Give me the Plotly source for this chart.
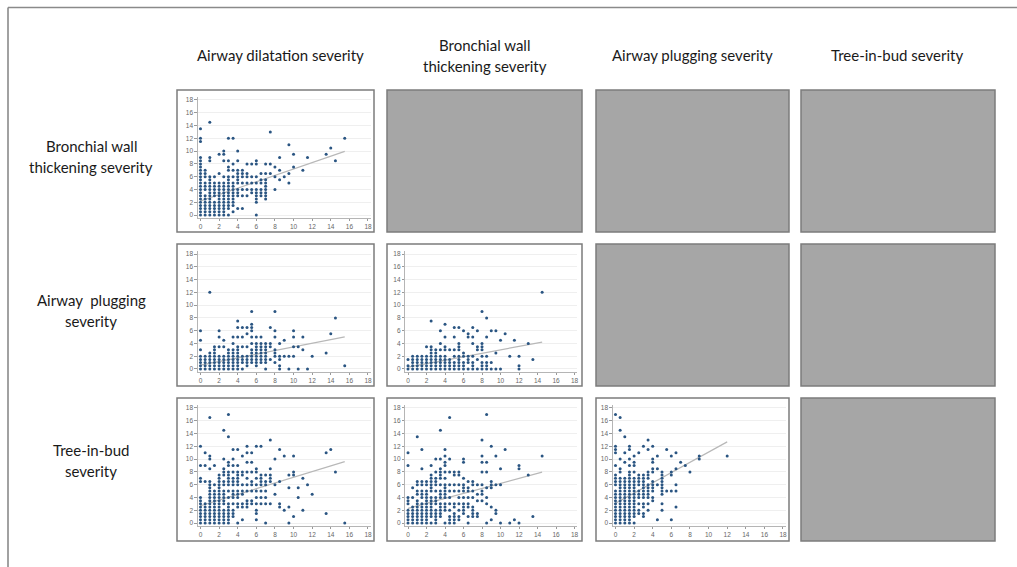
import plotly.graph_objects as go

W, H = 1017, 567

# ---- severity scores, grouped by x value: {x: [y, y, ...]} ----
# airway dilatation (x) vs bronchial wall thickening (y)
AD_BW = {
    0: [0, 0.5, 1, 1.5, 2, 2.5, 3, 3.5, 4, 4.5, 5, 5.5, 6, 6.5, 7, 7.5, 8, 8.5, 9, 11.5, 12, 13.5],
    0.5: [0, 0.5, 1, 1.5, 2, 2.5, 3, 4, 4.5, 5, 6, 6.5, 7],
    1: [0, 0.5, 1, 1.5, 2, 2.5, 3, 3.5, 4, 4.5, 5, 5.5, 6, 8.5, 9, 14.5],
    1.5: [0, 0.5, 1, 1.5, 2, 3, 3.5, 4, 4.5, 5, 6],
    2: [0, 0.5, 1, 1.5, 2, 2.5, 3, 3.5, 4, 4.5, 5, 6.5, 9.5],
    2.5: [0, 0.5, 1, 1.5, 2, 2.5, 3, 3.5, 4, 4.5, 5, 6, 8.5, 9.5, 10],
    3: [0, 1, 1.5, 2, 2.5, 3, 3.5, 4, 4.5, 5, 5.5, 6, 7, 7.5, 8.5, 12],
    3.5: [0.5, 1.5, 2, 2.5, 3, 3.5, 4, 4.5, 5, 6, 7, 8, 12],
    4: [1, 3, 3.5, 4, 5, 5.5, 6, 6.5, 7, 8.5, 10],
    4.5: [1, 3, 4, 5, 6, 6.5, 7],
    5: [3, 4, 5, 6, 6.5, 8],
    5.5: [3.5, 4, 5, 6, 8],
    6: [0, 2, 2.5, 3, 3.5, 4, 5, 6, 8, 8.5],
    6.5: [3, 3.5, 4, 5, 5.5, 6.5],
    7: [2.5, 3, 3.5, 4, 4.5, 5, 5.5, 6.5, 8],
    7.5: [6.5, 8, 13],
    8: [4, 6, 7.5],
    8.5: [5.5, 7, 9],
    9: [6],
    9.5: [5, 6.5, 11],
    10: [7.5, 9.5],
    11: [7],
    11.5: [9],
    13.5: [9.5],
    14: [10.5],
    14.5: [8.5],
    15.5: [12],
}

# airway dilatation (x) vs airway plugging (y)
AD_AP = {
    0: [0, 0.5, 1, 1.5, 2, 3, 4.5, 6],
    0.5: [0, 0.5, 1, 1.5, 2],
    1: [0, 0.5, 1, 1.5, 2, 2.5, 12],
    1.5: [0, 0.5, 1, 1.5, 2, 2.5, 3, 3.5],
    2: [0, 0.5, 1, 1.5, 2, 3.5, 5, 6],
    2.5: [0, 0.5, 1, 1.5, 2, 3.5, 4.5],
    3: [0, 0.5, 1, 1.5, 2, 2.5, 3],
    3.5: [0, 0.5, 1, 1.5, 2, 2.5, 3, 4, 5],
    4: [0, 0.5, 1, 1.5, 2, 2.5, 3, 3.5, 5, 6.5, 7.5],
    4.5: [0, 1, 1.5, 2, 3.5, 5, 6.5],
    5: [0.5, 1, 1.5, 2, 3.5, 5.5, 6.5],
    5.5: [1, 1.5, 2, 2.5, 3, 4, 5, 6, 6.5, 7, 9],
    6: [0.5, 1, 1.5, 2, 2.5, 3, 3.5, 4, 5],
    6.5: [1, 1.5, 2, 2.5, 3, 3.5, 4, 5],
    7: [0, 1, 1.5, 2, 2.5, 3, 3.5, 4],
    7.5: [1.5, 3.5, 4, 6.5],
    8: [1, 2, 2.5, 3, 5, 6, 9],
    8.5: [0, 0.5, 1.5, 2, 4],
    9: [2, 4.5],
    9.5: [0, 2],
    10: [2, 3.5, 5, 6],
    10.5: [0, 3.5],
    11: [3, 5],
    11.5: [0],
    12: [2],
    13.5: [2.5],
    14: [5.5],
    14.5: [8],
    15.5: [0.5],
}

# airway dilatation (x) vs tree-in-bud (y)
AD_TB = {
    0: [0, 0.5, 1, 1.5, 2, 2.5, 3, 3.5, 4, 6.5, 7, 9, 12],
    0.5: [0, 0.5, 1, 1.5, 2, 2.5, 3, 6.5, 9, 11],
    1: [0, 0.5, 1, 1.5, 2, 2.5, 3, 3.5, 4, 4.5, 5, 5.5, 6, 6.5, 8.5, 10, 10.5, 16.5],
    1.5: [0, 0.5, 1, 1.5, 2, 2.5, 3, 3.5, 4, 4.5, 5, 6, 9],
    2: [0, 0.5, 1, 1.5, 2, 2.5, 3, 3.5, 4, 4.5, 5, 5.5, 6, 6.5, 7, 7.5],
    2.5: [0, 0.5, 1, 1.5, 2, 3, 3.5, 4, 4.5, 5, 6, 6.5, 7.5, 8, 8.5, 10, 14.5],
    3: [0, 0.5, 1, 1.5, 2, 2.5, 3, 4, 5, 6, 6.5, 7, 7.5, 8, 9, 9.5, 13.5, 17],
    3.5: [1, 1.5, 2, 3, 4, 4.5, 5, 6, 6.5, 7, 8, 9, 10, 11.5],
    4: [0, 2.5, 3, 4, 4.5, 5, 6, 6.5, 7, 7.5, 8, 9, 11.5],
    4.5: [0.5, 2.5, 3, 4.5, 5, 6, 7.5, 8, 10.5],
    5: [2.5, 3, 3.5, 5, 6, 7, 8, 9.5, 11, 12],
    5.5: [3, 3.5, 5, 6, 6.5, 8, 9.5, 11],
    6: [0.5, 1.5, 2, 3, 4, 5, 6, 7, 8, 8.5, 12],
    6.5: [3, 4, 5, 6, 6.5, 7, 7.5, 12],
    7: [0, 3, 4, 5, 6, 6.5, 7.5],
    7.5: [3, 6.5, 7, 7.5, 8.5, 13],
    8: [4.5, 6, 10],
    8.5: [2.5, 3, 6.5, 11.5],
    9: [2, 10.5],
    9.5: [0, 2.5, 5.5, 7.5],
    10: [1, 7.5, 8, 10.5],
    10.5: [4, 5.5],
    11: [2, 7],
    11.5: [6],
    12: [4.5],
    13.5: [1.5, 11],
    14: [11.5],
    14.5: [8],
    15.5: [0],
}

# bronchial wall thickening (x) vs airway plugging (y)
BW_AP = {
    0: [0, 0.5, 1.5],
    0.5: [0, 0.5, 1, 1.5, 2],
    1: [0, 0.5, 1, 1.5, 2],
    1.5: [0, 0.5, 1, 1.5, 2],
    2: [0, 0.5, 1, 1.5, 2, 3.5],
    2.5: [0, 0.5, 1, 1.5, 2, 2.5, 3, 3.5, 7.5],
    3: [0, 0.5, 1, 1.5, 2, 2.5, 3],
    3.5: [0, 0.5, 1, 1.5, 2, 3, 4, 6],
    4: [0, 0.5, 1, 1.5, 2, 3, 3.5, 5, 7],
    4.5: [0, 0.5, 1, 1.5, 3],
    5: [0, 0.5, 1, 2, 3, 5, 6.5],
    5.5: [0, 0.5, 1, 1.5, 2, 3, 3.5, 4, 6.5],
    6: [0, 0.5, 1, 2, 2.5, 6],
    6.5: [0, 1, 1.5, 2, 5, 5.5],
    7: [0, 0.5, 1, 2, 4, 5, 6.5],
    7.5: [0, 1.5, 3, 3.5, 6],
    8: [0, 0.5, 1, 2, 3, 3.5, 4, 9],
    8.5: [0, 0.5, 1, 2, 5, 8],
    9: [0, 1, 6],
    9.5: [0, 2.5, 6],
    10: [0, 4.5],
    10.5: [5.5],
    11: [2],
    11.5: [4.5],
    12: [0, 0.5, 2],
    13: [4],
    13.5: [1.5],
    14.5: [12],
}

# bronchial wall thickening (x) vs tree-in-bud (y)
BW_TB = {
    0: [0, 0.5, 1, 1.5, 2, 3, 3.5, 4, 9, 11],
    0.5: [0, 0.5, 1, 1.5, 2, 2.5, 4, 5.5],
    1: [0, 0.5, 1, 1.5, 2, 2.5, 3, 3.5, 4.5, 5, 6, 6.5, 13.5],
    1.5: [0, 0.5, 1, 1.5, 2, 2.5, 3, 4, 4.5, 5, 6, 6.5, 8.5, 11.5],
    2: [0, 0.5, 1, 1.5, 2, 2.5, 3, 3.5, 4, 4.5, 5, 6, 6.5],
    2.5: [0, 1, 1.5, 2, 2.5, 3, 3.5, 4, 5, 5.5, 6, 6.5, 7, 7.5, 9],
    3: [0, 0.5, 1, 1.5, 2, 3, 3.5, 4, 5, 6, 6.5, 7, 8, 10],
    3.5: [1, 1.5, 2, 2.5, 3, 4, 4.5, 5, 6, 7, 7.5, 8, 8.5, 10, 14.5],
    4: [0, 2, 2.5, 3, 4, 4.5, 5, 5.5, 6, 7, 8, 9, 9.5, 10.5, 11.5],
    4.5: [0, 0.5, 1, 2, 3, 4, 5, 6, 8, 10, 16.5],
    5: [0, 0.5, 1, 1.5, 2.5, 3, 5, 6, 7.5, 8],
    5.5: [0.5, 1, 2, 3, 4, 5, 6, 7.5, 8],
    6: [1.5, 2, 2.5, 3, 4, 5, 5.5, 6, 7, 9.5, 10],
    6.5: [0, 1, 2.5, 3, 4, 5, 5.5, 6.5],
    7: [1, 1.5, 2, 2.5, 4, 5, 6, 6.5],
    7.5: [1, 1.5, 3.5, 4.5, 6],
    8: [3.5, 4.5, 5, 6, 8, 9.5, 10.5, 13],
    8.5: [0, 3, 4, 5.5, 8, 9.5, 17],
    9: [0.5, 2.5, 5.5, 6, 6.5, 12],
    9.5: [1.5, 2, 6, 10.5],
    10: [0, 6, 8.5],
    10.5: [11.5],
    11: [0],
    11.5: [0.5],
    12: [0, 8.5, 9],
    13: [7.5],
    13.5: [1],
    14.5: [10.5],
}

# airway plugging (x) vs tree-in-bud (y)
AP_TB = {
    0: [0, 0.5, 1, 1.5, 2, 2.5, 3, 3.5, 4, 4.5, 5, 6, 6.5, 7, 7.5, 9, 11, 11.5, 12, 17],
    0.5: [0, 0.5, 1, 1.5, 2, 2.5, 3, 3.5, 4, 4.5, 5, 5.5, 6, 6.5, 7, 8, 8.5, 10, 14.5, 16.5],
    1: [0, 0.5, 1, 1.5, 2, 2.5, 3, 3.5, 4, 4.5, 5, 5.5, 6, 6.5, 7, 9.5, 11, 13.5],
    1.5: [0, 0.5, 1, 1.5, 2, 2.5, 3, 3.5, 4, 4.5, 5, 5.5, 6, 6.5, 7, 7.5, 8, 9, 10, 11.5, 12],
    2: [0, 1, 1.5, 2, 2.5, 3, 3.5, 4, 4.5, 5, 5.5, 6, 6.5, 7, 8, 9, 9.5, 10.5],
    2.5: [1.5, 2, 3, 4, 4.5, 5, 6, 6.5, 7, 7.5, 11],
    3: [1, 1.5, 2.5, 3, 4, 4.5, 5, 5.5, 6, 6.5, 7, 7.5, 12],
    3.5: [2, 3, 4, 4.5, 5, 5.5, 6, 7, 7.5, 8, 11.5, 13],
    4: [3.5, 4, 5, 5.5, 6, 6.5, 8, 8.5, 9.5, 10, 12],
    4.5: [0.5, 6, 8.5, 10.5],
    5: [2, 3, 4.5, 5, 5.5, 6, 6.5, 7, 7.5, 8],
    5.5: [5, 11.5],
    6: [0.5, 5, 7.5, 8, 10.5],
    6.5: [2.5, 5, 6, 8.5, 11],
    7: [9.5],
    7.5: [9],
    8: [8],
    9: [10, 10.5],
    12: [10.5],
}

# fitted trend lines: (intercept, slope)
FIT_AD_BW = (2.2, 0.50)
FIT_AD_AP = (0.6, 0.285)
FIT_AD_TB = (2.7, 0.446)
FIT_BW_AP = (0.3, 0.27)
FIT_BW_TB = (2.3, 0.39)
FIT_AP_TB = (3.1, 0.80)

COL_TITLES = [["Airway dilatation severity"],
              ["Bronchial wall", "thickening severity"],
              ["Airway plugging severity"],
              ["Tree-in-bud severity"]]
ROW_TITLES = [["Bronchial wall", "thickening severity"],
              ["Airway\u00a0 plugging", "severity"],
              ["Tree-in-bud", "severity"]]
TICKS = [0, 2, 4, 6, 8, 10, 12, 14, 16, 18]

# (row, col, data, fit) for the lower-triangle scatter panels
PANELS = [
    (0, 0, AD_BW, FIT_AD_BW),
    (1, 0, AD_AP, FIT_AD_AP),
    (1, 1, BW_AP, FIT_BW_AP),
    (2, 0, AD_TB, FIT_AD_TB),
    (2, 1, BW_TB, FIT_BW_TB),
    (2, 2, AP_TB, FIT_AP_TB),
]

# ---- page geometry (pixels) ----
COL_BOX = [(177, 374), (387, 582), (596, 789), (801, 995)]
ROW_BOX = [(90, 232), (244, 386), (398, 541)]
X0_PX = [200.5, 408, 615.5]     # pixel position of value 0 on x, per column
X18_PX = [368, 574.5, 783]      # pixel position of value 18 on x, per column
XPAD, YPAD = 0.3, 0.45
COL_TITLE_X = [280, 484.5, 692.5, 897]
ROW_TITLE_X = 91

def px(x):
    return x / W

def py(y):
    return 1 - y / H

fig = go.Figure()
shapes = []
annotations = []

# panel frames (grey where there is no plot)
occupied = {(r, c) for r, c, _, _ in PANELS}
for r, (t, b) in enumerate(ROW_BOX):
    for c, (l, rr) in enumerate(COL_BOX):
        filled = (r, c) not in occupied
        shapes.append(dict(
            type="rect", xref="paper", yref="paper",
            x0=px(l), x1=px(rr), y0=py(b), y1=py(t),
            line=dict(color="#7c7c7c", width=1.5),
            fillcolor="#a6a6a6" if filled else "white",
            layer="below",
        ))

layout_axes = {}
for i, (r, c, data, fit) in enumerate(PANELS, start=1):
    xs, ys = [], []
    for xv, yl in data.items():
        for yv in yl:
            xs.append(xv)
            ys.append(yv)
    x_lo, x_hi = min(xs), max(xs)
    b0, b1 = fit

    t, b = ROW_BOX[r]
    y0p, y18p = t + 125, t + 10
    ppu_y = (y0p - y18p) / 18
    x0p, x18p = X0_PX[c], X18_PX[c]
    ppu_x = (x18p - x0p) / 18

    xd = [px(x0p - XPAD * ppu_x), px(x18p + XPAD * ppu_x)]
    yd = [py(y0p + YPAD * ppu_y), py(y18p - YPAD * ppu_y)]

    xa = "x" if i == 1 else f"x{i}"
    ya = "y" if i == 1 else f"y{i}"
    xkey = "xaxis" if i == 1 else f"xaxis{i}"
    ykey = "yaxis" if i == 1 else f"yaxis{i}"

    fig.add_trace(go.Scatter(
        x=[x_lo, x_hi], y=[b0 + b1 * x_lo, b0 + b1 * x_hi],
        mode="lines", line=dict(color="#b8b8b8", width=1.2),
        xaxis=xa, yaxis=ya, showlegend=False, hoverinfo="skip",
    ))
    fig.add_trace(go.Scatter(
        x=xs, y=ys, mode="markers",
        marker=dict(size=3.0, color="#2a5582", line=dict(width=0)),
        xaxis=xa, yaxis=ya, showlegend=False,
    ))

    common = dict(
        tickmode="array", tickvals=TICKS, ticktext=[str(v) for v in TICKS],
        ticks="outside", ticklen=2.5, tickwidth=0.8, tickcolor="#999999",
        tickfont=dict(family="Liberation Sans", size=6.5, color="#666666"),
        showline=True, linecolor="#b5b5b5", linewidth=0.8,
        zeroline=False, fixedrange=True,
    )
    layout_axes[xkey] = dict(common, domain=xd, anchor=ya,
                             range=[-XPAD, 18 + XPAD], showgrid=False)
    layout_axes[ykey] = dict(common, domain=yd, anchor=xa,
                             range=[-YPAD, 18 + YPAD], showgrid=True,
                             gridcolor="#efefef", gridwidth=0.8)

TXT = dict(family="Lato", size=15, color="#1a1a1a")

for c, lines in enumerate(COL_TITLES):
    if len(lines) == 1:
        ys_ = [55]
    else:
        ys_ = [45, 66]
    for text, yv in zip(lines, ys_):
        annotations.append(dict(
            text=text, x=px(COL_TITLE_X[c]), y=py(yv), xref="paper", yref="paper",
            xanchor="center", yanchor="middle", showarrow=False, font=TXT))

row_y = [(146, 167), (300, 321), (450, 471)]
for r, lines in enumerate(ROW_TITLES):
    for text, yv in zip(lines, row_y[r]):
        annotations.append(dict(
            text=text, x=px(ROW_TITLE_X), y=py(yv), xref="paper", yref="paper",
            xanchor="center", yanchor="middle", showarrow=False, font=TXT))

# outer frame: top and left rules
shapes.append(dict(type="line", xref="paper", yref="paper",
                   x0=px(8), x1=1, y0=py(7.5), y1=py(7.5),
                   line=dict(color="#8a8a8a", width=1.6)))
shapes.append(dict(type="line", xref="paper", yref="paper",
                   x0=px(8), x1=px(8), y0=py(7.5), y1=0,
                   line=dict(color="#8a8a8a", width=1.6)))

fig.update_layout(
    width=W, height=H,
    margin=dict(l=0, r=0, t=0, b=0),
    paper_bgcolor="white", plot_bgcolor="rgba(0,0,0,0)",
    shapes=shapes, annotations=annotations,
    **layout_axes,
)

fig.write_html("out.html", config={"displayModeBar": False})
